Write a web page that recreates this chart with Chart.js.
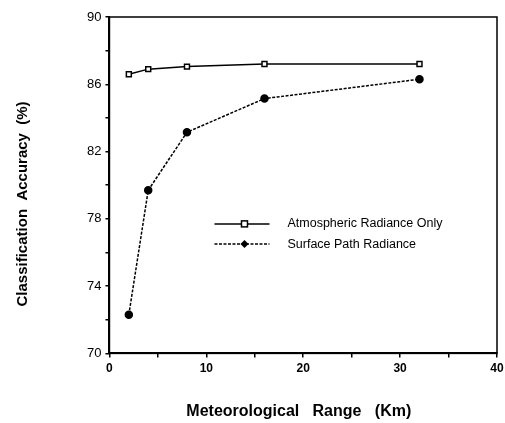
<!DOCTYPE html>
<html>
<head>
<meta charset="utf-8">
<script src="https://cdn.jsdelivr.net/npm/chart.js@4"></script>
<style>
  html, body { margin: 0; padding: 0; background: #fff; }
  #wrap { width: 505px; height: 423px; }
</style>
</head>
<body>
<div id="wrap"><canvas id="myChart"></canvas></div>
<script>
const ranges = [2, 4, 8, 16, 32];
const atmosphericOnly = [86.6, 86.9, 87.05, 87.2, 87.2];
const surfacePath = [72.3, 79.7, 83.15, 85.15, 86.3];
const seriesNames = ["Atmospheric Radiance Only", "Surface Path Radiance"];

const toPoints = (ys) => ranges.map((x, i) => ({ x: x, y: ys[i] }));

// box round the plot + legend placed inside it
const boxAndLegend = {
  id: "boxAndLegend",
  afterDraw(c) {
    const ctx = c.ctx;
    const a = c.chartArea;
    ctx.save();
    ctx.strokeStyle = "#000";
    ctx.lineWidth = 1.5;
    ctx.strokeRect(a.left, a.top, a.right - a.left, a.bottom - a.top);

    const x0 = a.left + (a.right - a.left) * 0.271;
    const x1 = x0 + 55;
    const xm = x0 + 30;
    const rows = [a.top + (a.bottom - a.top) * 0.615, a.top + (a.bottom - a.top) * 0.675];
    c.data.datasets.forEach((ds, i) => {
      const y = rows[i];
      ctx.beginPath();
      ctx.setLineDash(ds.borderDash || []);
      ctx.lineWidth = ds.borderWidth;
      ctx.moveTo(x0, y);
      ctx.lineTo(x1, y);
      ctx.stroke();
      ctx.setLineDash([]);
      ctx.lineWidth = 1.5;
      if (i === 0) {
        ctx.fillStyle = "#fff";
        ctx.fillRect(xm - 3, y - 3, 6, 6);
        ctx.strokeRect(xm - 3, y - 3, 6, 6);
      } else {
        ctx.fillStyle = "#000";
        ctx.beginPath();
        ctx.moveTo(xm, y - 4);
        ctx.lineTo(xm + 4, y);
        ctx.lineTo(xm, y + 4);
        ctx.lineTo(xm - 4, y);
        ctx.closePath();
        ctx.fill();
      }
      ctx.fillStyle = "#000";
      ctx.font = "12.5px 'Liberation Sans', Arial, sans-serif";
      ctx.textBaseline = "middle";
      ctx.fillText(ds.label, x1 + 18, y);
    });
    ctx.restore();
  }
};

new Chart(document.getElementById("myChart"), {
  type: "line",
  data: {
    datasets: [
      {
        label: seriesNames[0],
        data: toPoints(atmosphericOnly),
        borderColor: "#000",
        borderWidth: 1.5,
        pointStyle: "rect",
        pointRadius: 3.5,
        pointBackgroundColor: "#fff",
        pointBorderColor: "#000",
        pointBorderWidth: 1.5,
        tension: 0
      },
      {
        label: seriesNames[1],
        data: toPoints(surfacePath),
        borderColor: "#000",
        borderWidth: 1.5,
        borderDash: [3, 1.5],
        pointStyle: "circle",
        pointRadius: 3.5,
        pointBackgroundColor: "#000",
        pointBorderColor: "#000",
        tension: 0
      }
    ]
  },
  options: {
    responsive: true,
    maintainAspectRatio: false,
    animation: false,
    layout: { padding: { left: 10, right: 0, top: 17, bottom: 0 } },
    plugins: {
      legend: { display: false },
      tooltip: { enabled: false }
    },
    scales: {
      x: {
        type: "linear",
        min: 0,
        max: 40,
        afterFit: (s) => { s.paddingRight = 8; },
        ticks: {
          stepSize: 5,
          color: "#000",
          padding: 4,
          maxRotation: 0,
          font: { family: "'Liberation Sans', Arial, sans-serif", size: 12, weight: "bold" },
          callback: (v) => (v % 10 === 0 ? String(v) : "")
        },
        grid: { drawOnChartArea: false, tickLength: 4, color: "#000", lineWidth: 1.5 },
        border: { color: "#000", width: 2 },
        title: {
          display: true,
          text: "Meteorological   Range   (Km)  ",
          color: "#000",
          font: { family: "'Liberation Sans', Arial, sans-serif", size: 16, weight: "bold" },
          padding: { top: 22, bottom: 2 }
        }
      },
      y: {
        min: 70,
        max: 90,
        ticks: {
          stepSize: 2,
          color: "#000",
          padding: 4,
          font: { family: "'Liberation Sans', Arial, sans-serif", size: 13 },
          callback: (v) => ((v - 70) % 4 === 0 ? String(v) : "")
        },
        grid: { drawOnChartArea: false, tickLength: 4, color: "#000", lineWidth: 1.5 },
        border: { color: "#000", width: 2 },
        title: {
          display: true,
          text: "Classification  Accuracy  (%)         ",
          color: "#000",
          font: { family: "'Liberation Sans', Arial, sans-serif", size: 15, weight: "bold" },
          padding: { top: 4, bottom: 51 }
        }
      }
    }
  },
  plugins: [boxAndLegend]
});
</script>
</body>
</html>
